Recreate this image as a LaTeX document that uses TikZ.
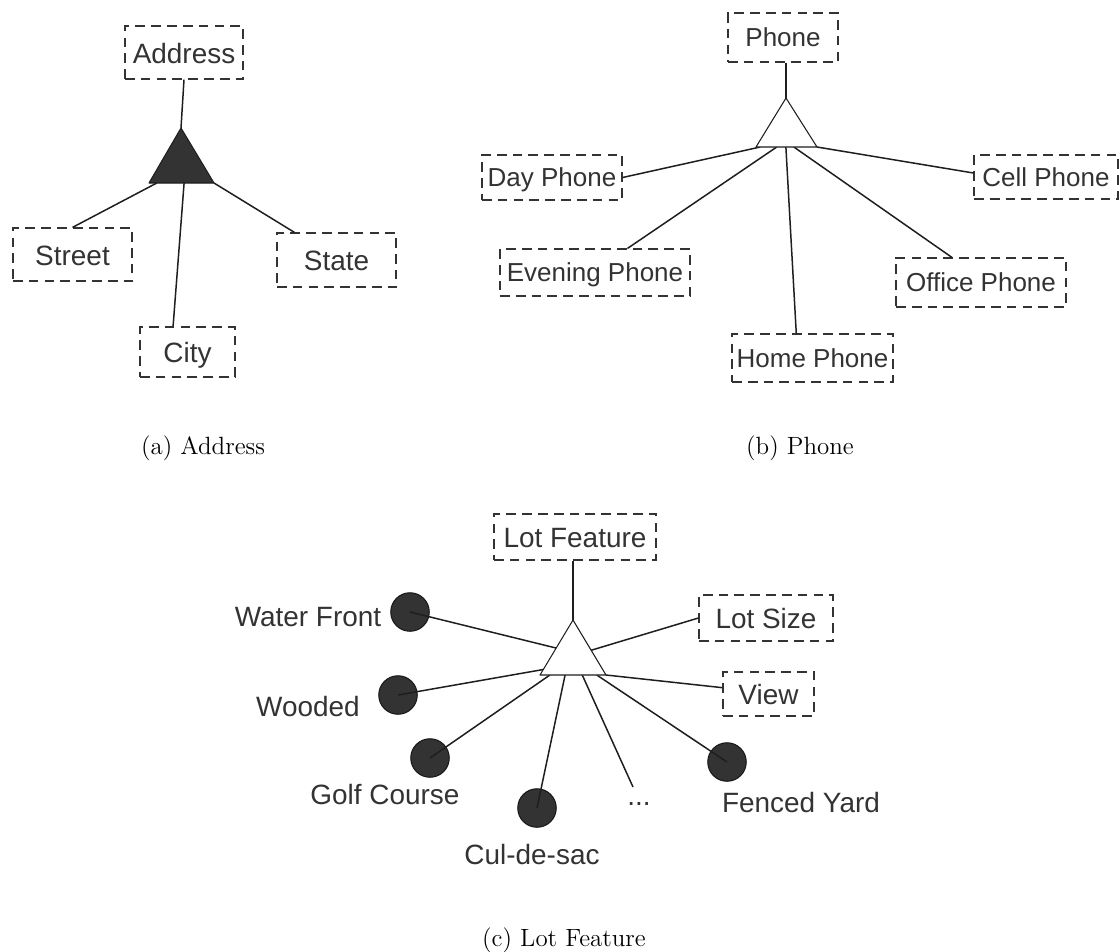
\documentclass[tikz,border=0pt]{standalone}
\usepackage{fontspec}
\usepackage{tikz}
\usetikzlibrary{calc, positioning}
\newfontfamily\diagfont{Liberation Sans}
\definecolor{ink}{HTML}{333333}
\definecolor{wire}{HTML}{1E1E1E}
\tikzset{
  attr/.style={rectangle, draw=ink, dash pattern=on 5.5pt off 3.5pt, line width=0.7pt,
               inner sep=0pt, text=ink},
  attrbig/.style={attr, font=\diagfont\fontsize{15.9}{18}\selectfont,
                  text height=12.5pt, text depth=0pt},
  attrsmall/.style={attr, font=\diagfont\fontsize{14.8}{17}\selectfont,
                    text height=10.8pt, text depth=0pt},
  val/.style={circle, draw=black!90, fill=ink, line width=0.6pt,
              minimum size=0.77cm, inner sep=0pt},
  tag/.style={font=\diagfont\fontsize{15.9}{18}\selectfont, text=ink, inner sep=0pt},
  link/.style={draw=wire, line width=0.85pt},
  solidtri/.style={draw=wire, fill=ink, line width=0.6pt, line join=round},
  opentri/.style={draw=wire, fill=white, line width=0.6pt, line join=round},
  caption/.style={font=\fontsize{14.2}{17}\selectfont, text=black},
}

\begin{document}
\begin{tikzpicture}[x=0.02cm, y=-0.02cm]
  \useasboundingbox (0,0) rectangle (1119,951);

  % (a) Address
  \node[attrbig, minimum width=2.36cm, minimum height=1.06cm] (address) at (184,52.5) {Address};
  \node[attrbig, minimum width=2.38cm, minimum height=1.06cm] (street) at (72.5,254.5) {Street};
  \node[attrbig, minimum width=1.90cm, minimum height=1.00cm] (city) at (187.5,352) {City};
  \node[attrbig, minimum width=2.38cm, minimum height=1.08cm] (state) at (336.5,260) {State};
  \coordinate (aTop) at (181,128);
  \coordinate (aL) at (149,183);
  \coordinate (aR) at (214,183);

  \draw[link] (address.south) -- (aTop);
  \draw[link] ($(aL)!0.12!(aR)$) -- (street.north);
  \draw[link] ($(aL)!0.54!(aR)$) -- ($(city.north west)!0.35!(city.north east)$);
  \draw[link] (aR) -- ($(state.north west)!0.15!(state.north east)$);
  \filldraw[solidtri] (aTop) -- (aL) -- (aR) -- cycle;

  \node[caption] (capA) at (203,448) {(a) Address};

  % (b) Phone
  \node[attrsmall, minimum width=2.20cm, minimum height=0.98cm] (phone) at (783,37.5) {Phone};
  \node[attrsmall, minimum width=2.80cm, minimum height=0.90cm] (day) at (552,177.5) {Day Phone};
  \node[attrsmall, minimum width=3.80cm, minimum height=0.94cm] (evening) at (595,272.5) {Evening Phone};
  \node[attrsmall, minimum width=3.22cm, minimum height=0.96cm] (home) at (812.5,358) {Home Phone};
  \node[attrsmall, minimum width=3.40cm, minimum height=0.98cm] (office) at (981,282.5) {Office Phone};
  \node[attrsmall, minimum width=2.88cm, minimum height=0.88cm] (cell) at (1046,177) {Cell Phone};
  \coordinate (bTop) at (786,98);
  \coordinate (bL) at (756,147);
  \coordinate (bR) at (817,147);

  \draw[link] (bTop |- phone.south) -- (bTop);
  \draw[link] ($(bL)!0.07!(bR)$) -- (day.east);
  \draw[link] ($(bL)!0.34!(bR)$) -- ($(evening.north west)!0.67!(evening.north east)$);
  \draw[link] ($(bL)!0.49!(bR)$) -- ($(home.north west)!0.40!(home.north east)$);
  \draw[link] ($(bL)!0.62!(bR)$) -- ($(office.north west)!0.33!(office.north east)$);
  \draw[link] (bR) -- ($(cell.west)+(0,-4)$);
  \filldraw[opentri] (bTop) -- (bL) -- (bR) -- cycle;

  \node[caption] (capB) at (800,448) {(b) Phone};

  % (c) Lot Feature
  \node[attrbig, minimum width=3.24cm, minimum height=0.92cm] (lotfeat) at (575,537) {Lot Feature};
  \node[attrbig, minimum width=2.68cm, minimum height=0.92cm] (lotsize) at (766,618) {Lot Size};
  \node[attrbig, minimum width=1.82cm, minimum height=0.88cm] (view) at (768.5,694) {View};
  \node[val] (water) at (410,612) {};
  \node[val] (wooded) at (398,695) {};
  \node[val] (golf) at (430,758) {};
  \node[val] (culdesac) at (537,808) {};
  \node[val] (fenced) at (727,762) {};
  \node[tag] (waterlbl) at (308,617) {Water Front};
  \node[tag] (woodedlbl) at (308,707) {Wooded};
  \node[tag] (golflbl) at (385,794) {Golf Course};
  \node[tag] (culdesaclbl) at (532,854) {Cul-de-sac};
  \node[tag] (fencedlbl) at (801,803) {Fenced Yard};
  \node[tag] (dots) at (639,804) {...};
  \coordinate (cTop) at (573,620);
  \coordinate (cL) at (540,675);
  \coordinate (cR) at (606,675);

  \draw[link] (cTop |- lotfeat.south) -- (cTop);
  \draw[link] ($(cTop)!0.55!(cR)$) -- (lotsize.west);
  \draw[link] (cR) -- ($(view.north west)!0.36!(view.south west)$);
  \draw[link] ($(cTop)!0.51!(cL)$) -- (water.center);
  \draw[link] ($(cTop)!0.9!(cL)$) -- (wooded.center);
  \draw[link] ($(cL)!0.15!(cR)$) -- (golf.center);
  \draw[link] ($(cL)!0.38!(cR)$) -- (culdesac.center);
  \draw[link] ($(cL)!0.64!(cR)$) -- ($(dots.center)+(-6,-17)$);
  \draw[link] ($(cL)!0.86!(cR)$) -- (fenced.center);
  \filldraw[opentri] (cTop) -- (cL) -- (cR) -- cycle;

  \node[caption] (capC) at (564,940) {(c) Lot Feature};

\end{tikzpicture}
\end{document}
